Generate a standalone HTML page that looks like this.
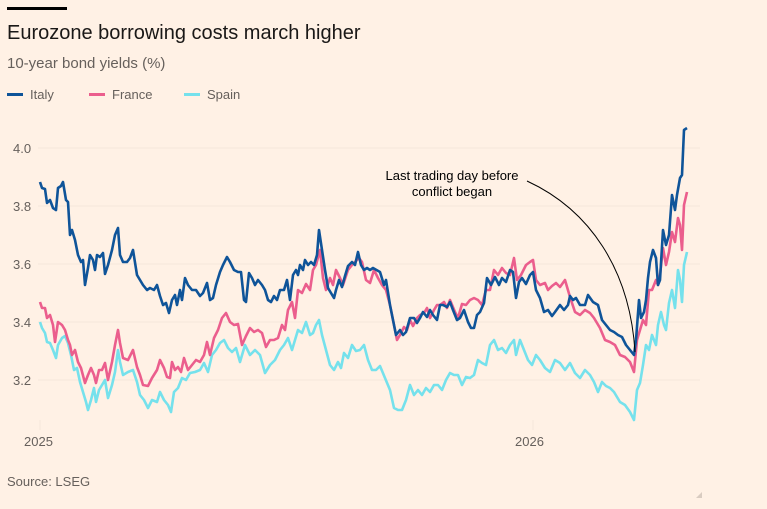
<!DOCTYPE html>
<html><head><meta charset="utf-8"><style>
body{margin:0;background:#FFF1E5;font-family:"Liberation Sans",sans-serif;}
.w{position:relative;width:767px;height:509px;overflow:hidden;background:#FFF1E5}
</style></head><body><div class="w">
<svg width="767" height="509" style="position:absolute;left:0;top:0" font-family="Liberation Sans, sans-serif">
<rect x="7" y="7" width="60" height="3" fill="#000"/>
<text x="7" y="39" font-size="20" fill="#1a1817">Eurozone borrowing costs march higher</text>
<text x="7" y="68" font-size="15" fill="#66605C">10-year bond yields (%)</text>
<rect x="7" y="93" width="16" height="3" fill="#0F5499"/><text x="30" y="99" font-size="13" fill="#66605C">Italy</text>
<rect x="89" y="93" width="16" height="3" fill="#EB5E8D"/><text x="112" y="99" font-size="13" fill="#66605C">France</text>
<rect x="184" y="93" width="16" height="3" fill="#75E1EC"/><text x="207" y="99" font-size="13" fill="#66605C">Spain</text>
<g stroke="#F5E7DA" stroke-width="1">
<line x1="38" y1="148" x2="700" y2="148"/><line x1="38" y1="206" x2="700" y2="206"/><line x1="38" y1="264" x2="700" y2="264"/><line x1="38" y1="322" x2="700" y2="322"/><line x1="38" y1="380" x2="700" y2="380"/>
<line x1="40" y1="420" x2="40" y2="430"/><line x1="533" y1="420" x2="533" y2="430"/>
</g>
<g font-size="13" fill="#66605C">
<text x="13" y="153">4.0</text><text x="13" y="211">3.8</text><text x="13" y="269">3.6</text><text x="13" y="327">3.4</text><text x="13" y="385">3.2</text>
<text x="24" y="446">2025</text><text x="515" y="446">2026</text>
<text x="7" y="486">Source: LSEG</text>
</g>
<polygon points="696,498 702,492 702,498" fill="#D9CCC1"/>
<g fill="none" stroke-width="2.6" stroke-linejoin="round">
<polyline stroke="#75E1EC" points="40,322 42,328 45,333 47,342 50,343 53,350 56,358 58,345 62,338 65,336 68,343 71,355 74,370 77,368 80,382 83,392 86,402 88,410 91,400 94,388 96,402 99,390 102,385 105,380 108,398 112,385 115,372 118,350 120,362 123,375 128,372 133,370 137,382 140,395 144,400 148,408 152,400 157,402 160,392 164,400 168,405 171,412 174,392 178,388 182,378 186,380 190,373 195,372 200,370 204,363 208,372 212,355 216,350 220,343 224,340 228,348 232,352 236,348 240,362 245,345 250,355 255,350 260,355 265,373 270,365 275,360 280,350 284,345 288,338 292,350 295,340 298,330 302,333 306,322 310,335 313,333 316,325 319,320 322,335 326,350 330,365 334,370 338,362 341,368 344,353 348,358 352,345 356,351 360,350 364,345 368,360 372,370 376,370 380,366 385,378 390,390 394,408 398,410 402,410 406,400 410,385 414,395 418,390 422,395 426,388 430,392 434,385 438,385 442,390 446,380 450,373 454,375 458,375 462,385 466,377 470,378 474,375 478,360 482,363 486,365 490,345 494,340 498,350 502,348 506,353 510,345 514,340 516,355 520,340 524,350 528,360 532,365 536,355 540,360 545,368 550,372 555,360 560,363 565,370 570,363 575,373 580,378 585,370 590,375 594,382 598,392 602,382 606,386 610,388 614,392 620,402 625,405 630,412 634,420 637,390 640,383 643,365 646,345 649,350 652,335 656,345 658,325 661,312 664,325 666,330 669,303 672,290 675,308 678,270 680,280 682,302 684,265 687,252"/>
<polyline stroke="#EB5E8D" points="40,302 42,308 45,308 47,318 50,315 53,325 55,342 58,322 62,325 65,330 68,340 70,345 72,355 75,350 78,362 81,368 85,383 88,375 91,368 94,375 96,383 99,370 102,370 105,363 108,380 112,362 115,345 118,330 120,343 123,358 128,360 133,350 137,367 140,375 143,385 148,386 152,378 157,370 160,360 164,368 167,377 170,378 172,362 175,370 178,367 181,372 184,358 188,370 192,365 196,360 200,362 204,355 207,342 210,355 214,338 218,330 222,318 226,313 230,322 234,325 238,324 242,345 246,336 250,328 254,332 258,330 262,333 266,347 270,340 274,340 278,338 282,325 285,330 288,310 292,302 295,318 298,290 302,293 306,284 310,290 313,270 316,265 320,250 323,278 326,290 330,278 333,285 336,270 340,278 343,285 348,270 352,265 356,261 359,258 362,262 366,280 370,283 374,270 378,278 382,285 386,290 390,305 394,325 397,340 400,335 404,327 407,330 410,320 413,326 417,318 420,315 424,313 427,308 430,318 434,310 437,305 440,305 444,302 447,308 450,300 455,312 458,318 462,304 466,305 470,300 474,298 478,300 482,305 486,290 490,290 494,270 498,275 502,268 506,273 510,275 514,258 517,280 521,275 526,265 530,262 533,260 536,280 540,285 545,283 548,290 552,286 556,283 560,287 565,280 570,297 575,312 580,315 585,310 590,313 594,318 600,328 605,340 610,342 615,345 620,355 625,357 630,362 634,372 637,340 640,330 643,320 646,325 649,290 652,290 656,280 658,285 660,275 663,248 666,265 669,252 672,232 675,242 678,218 680,225 682,250 684,205 687,192"/>
<polyline stroke="#0F5499" points="40,182 42,188 45,189 47,203 50,200 53,208 56,210 58,188 61,186 63,182 66,200 68,202 70,235 72,230 75,240 78,255 81,262 83,260 85,285 88,268 90,255 93,260 95,270 97,255 100,257 103,253 105,274 108,265 112,250 115,235 118,228 120,255 123,262 127,262 130,258 133,250 137,275 140,280 143,285 147,290 150,288 154,290 157,285 160,296 163,305 166,303 169,313 172,300 175,295 177,305 180,290 182,300 185,278 188,285 192,290 196,290 200,296 203,293 207,283 210,300 213,298 216,285 220,272 223,265 227,257 230,262 234,270 238,272 241,272 244,300 246,302 249,273 252,278 255,285 258,280 262,285 265,290 268,300 271,302 274,296 277,300 280,290 284,290 287,280 290,300 293,275 296,270 298,275 300,265 303,270 305,260 308,265 311,262 314,265 317,255 319,230 322,250 325,270 328,288 331,293 334,298 336,290 339,280 342,287 345,276 348,266 352,262 355,265 358,252 361,265 364,270 367,268 370,270 373,268 380,272 384,285 386,280 390,305 394,325 396,335 400,330 403,335 406,332 410,318 414,318 417,323 420,318 423,312 427,317 430,310 433,315 437,320 440,305 443,305 447,307 450,302 453,310 457,320 460,318 464,310 468,322 471,328 474,328 477,315 480,312 484,303 487,278 491,285 495,277 499,285 502,278 506,282 510,270 513,272 516,298 519,282 522,278 526,284 530,275 533,272 536,290 540,298 544,312 548,310 552,316 555,312 560,305 564,310 568,305 570,296 573,300 576,298 580,305 585,305 588,295 593,302 598,305 602,320 606,325 610,330 614,332 618,335 622,337 626,345 630,350 634,355 636,340 639,300 641,318 644,312 646,300 648,278 650,262 653,250 656,258 658,285 660,280 663,230 666,245 669,235 672,195 675,210 677,195 680,178 682,175 684,130 687,128"/>
</g>
<path d="M527,181 C590,210 630,270 635,352" fill="none" stroke="#000" stroke-width="1"/>
<g font-size="13" fill="#000" text-anchor="middle">
<text x="452" y="180">Last trading day before</text>
<text x="452" y="196">conflict began</text>
</g>
</svg>
</div></body></html>
